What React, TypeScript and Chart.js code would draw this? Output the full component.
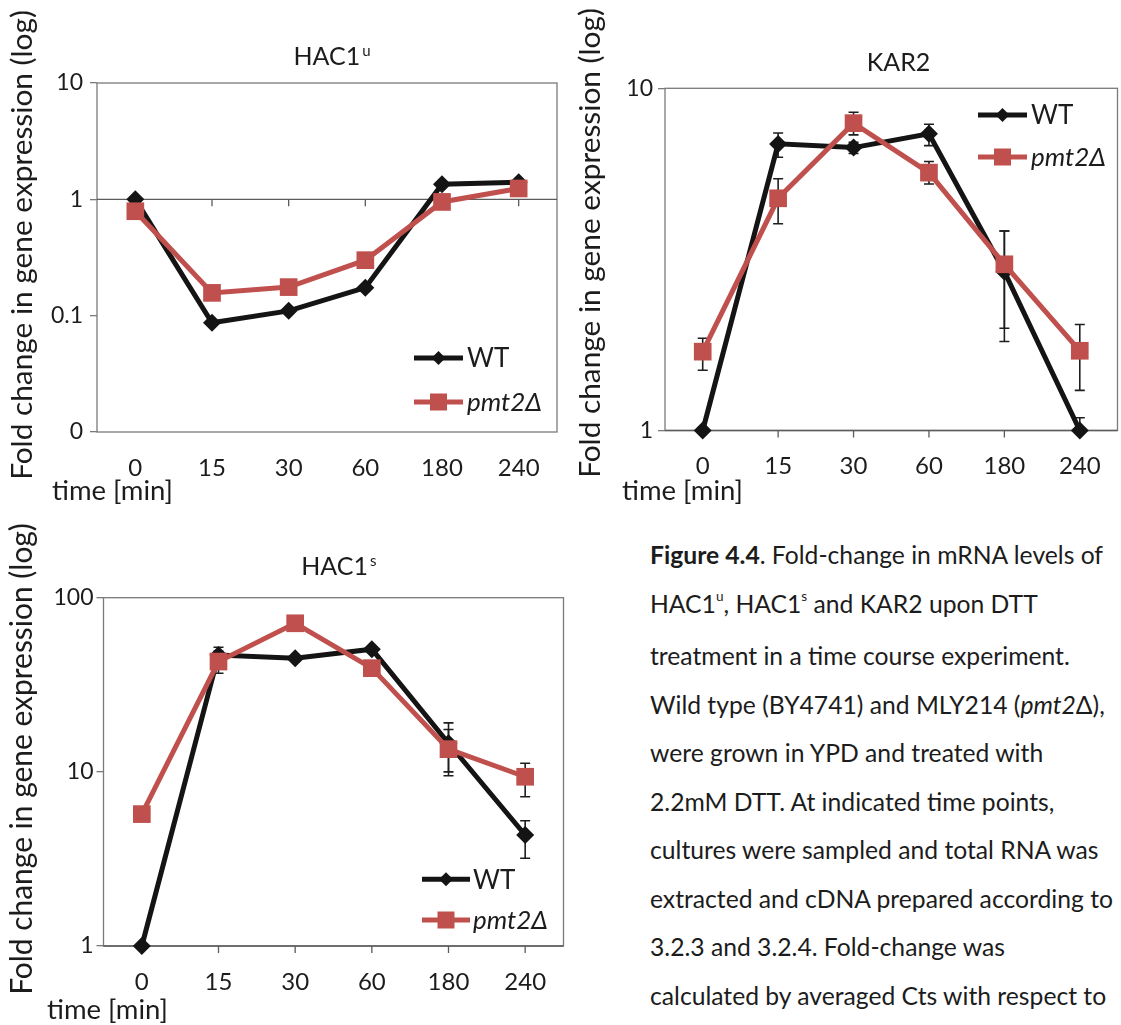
import React, { useEffect, useRef } from 'react';
import { Chart, registerables } from 'chart.js';

Chart.register(...registerables);

const FONT = "Lato, 'Open Sans', 'DejaVu Sans', sans-serif";
const RED = '#C0504D';
const BLACK = '#141414';

// ---------- data ----------
const timeLabels = ['0', '15', '30', '60', '180', '240'];
const seriesNames = ['WT', 'pmt2Δ'];
const yAxisTitle = 'Fold change in gene expression (log)';
const xAxisTitle = 'time [min]';

// HAC1u
const hacUTicks = [0.01, 0.1, 1, 10];
const hacUTickLabels = ['0', '0.1', '1', '10'];
const hacUWt = [1.0, 0.087, 0.11, 0.174, 1.35, 1.4];
const hacUPmt = [0.79, 0.157, 0.176, 0.3, 0.95, 1.24];

// KAR2
const kar2Ticks = [1, 10];
const kar2TickLabels = ['1', '10'];
const kar2Wt = [1.0, 6.88, 6.71, 7.36, 2.91, 1.0];
const kar2Pmt = [1.7, 4.77, 7.91, 5.67, 3.06, 1.71];
const kar2WtErr: (number[] | null)[] = [null, [6.29, 7.4], [6.45, 6.95], [6.8, 7.85], [1.99, 3.83], [0.93, 1.09]];
const kar2PmtErr: (number[] | null)[] = [[1.5, 1.86], [4.02, 5.44], [7.31, 8.51], [5.25, 6.11], [1.82, 3.83], [1.31, 2.04]];

// HAC1s
const hacSTicks = [1, 10, 100];
const hacSTickLabels = ['1', '10', '100'];
const hacSWt = [1.0, 46.9, 44.9, 50.6, 14.6, 4.34];
const hacSPmt = [5.72, 43.0, 71.3, 39.4, 13.5, 9.37];
const hacSWtErr: (number[] | null)[] = [null, [41.9, 51.9], null, null, [10.0, 19.1], [3.19, 5.24]];
const hacSPmtErr: (number[] | null)[] = [[5.2, 6.2], [36.8, 49.2], null, null, [9.5, 17.5], [7.2, 11.2]];

// ---------- layout (positions / styles) ----------
type Panel = {
  left: number; top: number; w: number; h: number;
  area: { l: number; t: number; r: number; b: number };
  title: { text: string; sup?: string; cx: number; cy: number };
  yTitle: { baseX: number; cy: number; len: number };
  xTitle: { x: number; cy: number };
  legend: { x1: number; x2: number; tx: number; y1: number; y2: number };
  yTickPad: number; xTickPad: number;
  ticks: number[]; tickLabels: string[];
  wt: number[]; pmt: number[];
  wtErr: (number[] | null)[]; pmtErr: (number[] | null)[];
};

const panels: Panel[] = [
  {
    left: 0, top: 0, w: 570, h: 510,
    area: { l: 97, t: 83, r: 557, b: 432 },
    title: { text: 'HAC1', sup: 'u', cx: 332, cy: 56 },
    yTitle: { baseX: 32, cy: 245, len: 470 },
    xTitle: { x: 52, cy: 491 },
    legend: { x1: 414, x2: 463, tx: 467, y1: 358, y2: 402 },
    yTickPad: 7, xTickPad: 14,
    ticks: hacUTicks, tickLabels: hacUTickLabels,
    wt: hacUWt, pmt: hacUPmt, wtErr: [], pmtErr: [],
  },
  {
    left: 570, top: 0, w: 560, h: 510,
    area: { l: 95, t: 88.3, r: 554, b: 430.5 },
    title: { text: 'KAR2', cx: 328.5, cy: 62 },
    yTitle: { baseX: 30, cy: 243, len: 470 },
    xTitle: { x: 52, cy: 491 },
    legend: { x1: 408, x2: 457, tx: 461, y1: 115, y2: 157 },
    yTickPad: 5, xTickPad: 13,
    ticks: kar2Ticks, tickLabels: kar2TickLabels,
    wt: kar2Wt, pmt: kar2Pmt, wtErr: kar2WtErr, pmtErr: kar2PmtErr,
  },
  {
    left: 0, top: 510, w: 600, h: 515,
    area: { l: 103.5, t: 87.7, r: 563.5, b: 436 },
    title: { text: 'HAC1', sup: 's', cx: 338.8, cy: 55.8 },
    yTitle: { baseX: 32, cy: 249, len: 472 },
    xTitle: { x: 47, cy: 500 },
    legend: { x1: 422, x2: 470, tx: 473, y1: 369.3, y2: 410 },
    yTickPad: 3, xTickPad: 14,
    ticks: hacSTicks, tickLabels: hacSTickLabels,
    wt: hacSWt, pmt: hacSPmt, wtErr: hacSWtErr, pmtErr: hacSPmtErr,
  },
];

function diamond(ctx: CanvasRenderingContext2D, x: number, y: number, r: number) {
  ctx.beginPath();
  ctx.moveTo(x - r, y); ctx.lineTo(x, y - r); ctx.lineTo(x + r, y); ctx.lineTo(x, y + r);
  ctx.closePath(); ctx.fill();
}

const figurePlugin = {
  id: 'figure',
  beforeDatasetsDraw(chart: any, _args: any, o: any) {
    const { ctx, chartArea: a } = chart;
    const xs = chart.scales.x, ys = chart.scales.y;
    ctx.save();
    ctx.lineWidth = 1.3;
    ctx.strokeStyle = '#7a7a7a';
    ctx.strokeRect(a.left, a.top, a.right - a.left, a.bottom - a.top);
    const yc = ys.getPixelForValue(1);
    ctx.strokeStyle = '#5c5c5c';
    ctx.beginPath();
    ctx.moveTo(a.left, yc); ctx.lineTo(a.right, yc);
    for (let i = 0; i < timeLabels.length; i++) {
      const px = xs.getPixelForValue(i);
      ctx.moveTo(px, yc); ctx.lineTo(px, yc + 7);
    }
    ctx.stroke();
    ctx.beginPath();
    ctx.rect(a.left, a.top - 20, a.right - a.left, a.bottom - a.top + 20);
    ctx.clip();
    ctx.strokeStyle = '#1e1e1e';
    ctx.lineWidth = 1.6;
    (o.errors || []).forEach((ser: (number[] | null)[]) => ser.forEach((e, i) => {
      if (!e) return;
      const px = xs.getPixelForValue(i);
      const y1 = ys.getPixelForValue(e[0]), y2 = ys.getPixelForValue(e[1]);
      ctx.beginPath();
      ctx.moveTo(px, y1); ctx.lineTo(px, y2);
      ctx.moveTo(px - 5, y1); ctx.lineTo(px + 5, y1);
      ctx.moveTo(px - 5, y2); ctx.lineTo(px + 5, y2);
      ctx.stroke();
    }));
    ctx.restore();
  },
  afterDraw(chart: any, _args: any, o: any) {
    const ctx: CanvasRenderingContext2D = chart.ctx;
    const p: Panel = o.panel;
    ctx.save();
    ctx.fillStyle = '#1c1c1c';
    // title
    ctx.textAlign = 'left';
    ctx.textBaseline = 'alphabetic';
    ctx.font = `25px ${FONT}`;
    const w1 = ctx.measureText(p.title.text).width;
    ctx.font = `15px ${FONT}`;
    const w2 = p.title.sup ? ctx.measureText(p.title.sup).width + 2 : 0;
    const x0 = p.title.cx - (w1 + w2) / 2;
    const base = p.title.cy + 9;
    ctx.font = `25px ${FONT}`;
    ctx.fillText(p.title.text, x0, base);
    if (p.title.sup) {
      ctx.font = `15px ${FONT}`;
      ctx.fillText(p.title.sup, x0 + w1 + 2, base - 9);
    }
    // y title (fitted to length)
    ctx.font = `24px ${FONT}`;
    const mw = ctx.measureText(yAxisTitle).width;
    const fs = 24 * p.yTitle.len / mw;
    ctx.save();
    ctx.translate(p.yTitle.baseX, p.yTitle.cy);
    ctx.rotate(-Math.PI / 2);
    ctx.textAlign = 'center';
    ctx.font = `${fs}px ${FONT}`;
    ctx.fillText(yAxisTitle, 0, 0);
    ctx.restore();
    // x title
    ctx.textAlign = 'left';
    ctx.textBaseline = 'middle';
    ctx.font = `27.5px ${FONT}`;
    ctx.fillText(xAxisTitle, p.xTitle.x, p.xTitle.cy);
    // legend
    const L = p.legend;
    const mid = (L.x1 + L.x2) / 2;
    ctx.lineWidth = 5;
    ctx.strokeStyle = BLACK;
    ctx.beginPath(); ctx.moveTo(L.x1, L.y1); ctx.lineTo(L.x2, L.y1); ctx.stroke();
    ctx.fillStyle = BLACK;
    diamond(ctx, mid, L.y1, 7);
    ctx.strokeStyle = RED;
    ctx.beginPath(); ctx.moveTo(L.x1, L.y2); ctx.lineTo(L.x2, L.y2); ctx.stroke();
    ctx.fillStyle = RED;
    ctx.fillRect(mid - 8.5, L.y2 - 8.5, 17, 17);
    ctx.fillStyle = '#1c1c1c';
    ctx.font = `26px ${FONT}`;
    ctx.fillText(seriesNames[0], L.tx, L.y1 + 1);
    ctx.font = `italic 26px ${FONT}`;
    ctx.fillText(seriesNames[1], L.tx, L.y2 + 1);
    ctx.restore();
  },
};

function PanelChart({ p }: { p: Panel }) {
  const ref = useRef<HTMLCanvasElement>(null);
  useEffect(() => {
    if (!ref.current) return;
    const xAxisH = 62;
    const chart = new Chart(ref.current, {
      type: 'line',
      data: {
        labels: timeLabels,
        datasets: [
          {
            label: seriesNames[0], data: p.wt, order: 1,
            borderColor: BLACK, backgroundColor: BLACK, borderWidth: 5,
            pointStyle: 'rectRot', pointRadius: 9, pointBorderWidth: 0,
            pointBackgroundColor: BLACK, tension: 0,
          },
          {
            label: seriesNames[1], data: p.pmt, order: 0,
            borderColor: RED, backgroundColor: RED, borderWidth: 5,
            pointStyle: 'rect', pointRadius: 12.5, pointBorderWidth: 0,
            pointBackgroundColor: RED, tension: 0,
          },
        ],
      },
      options: {
        animation: false,
        responsive: false,
        maintainAspectRatio: false,
        clip: false as any,
        layout: { padding: { left: 0, top: p.area.t, right: p.w - p.area.r, bottom: p.h - p.area.b - xAxisH } },
        plugins: {
          legend: { display: false },
          title: { display: false },
          tooltip: { enabled: false },
          figure: { panel: p, errors: [p.wtErr, p.pmtErr] },
        } as any,
        scales: {
          x: {
            type: 'category', offset: true,
            grid: { display: false }, border: { display: false },
            ticks: { font: { family: FONT, size: 24 }, color: '#1c1c1c', padding: p.xTickPad, autoSkip: false, maxRotation: 0 },
            afterFit: (s: any) => { s.height = xAxisH; },
          },
          y: {
            type: 'logarithmic',
            min: p.ticks[0], max: p.ticks[p.ticks.length - 1],
            grid: { drawOnChartArea: false, drawTicks: true, tickLength: 7, color: '#7a7a7a', lineWidth: 1.3 },
            border: { display: false },
            ticks: {
              font: { family: FONT, size: 23 }, color: '#1c1c1c', padding: p.yTickPad,
              callback: (v: any) => {
                const i = p.ticks.findIndex((t) => Math.abs(t - Number(v)) < 1e-9);
                return i >= 0 ? p.tickLabels[i] : '';
              },
            },
            afterBuildTicks: (s: any) => { s.ticks = p.ticks.map((v) => ({ value: v })); },
            afterFit: (s: any) => { s.width = p.area.l; },
          },
        } as any,
      },
      plugins: [figurePlugin as any],
    });
    return () => chart.destroy();
  }, [p]);
  return (
    <canvas
      ref={ref}
      width={p.w}
      height={p.h}
      style={{ position: 'absolute', left: p.left, top: p.top, width: p.w, height: p.h }}
    />
  );
}

const supStyle: React.CSSProperties = { fontSize: '0.55em', position: 'relative', top: '-0.85em' };

export default function App() {
  return (
    <div style={{ position: 'absolute', left: 0, top: 0, width: 1121, height: 1025, overflow: 'hidden', background: '#fff' }}>
      {panels.map((p, i) => <PanelChart key={i} p={p} />)}
      <div style={{ position: 'absolute', left: 650, top: 531, fontFamily: FONT, fontSize: 24.7, lineHeight: '48.5px', color: '#1c1c1c', whiteSpace: 'nowrap' }}>
        <div><b>Figure 4.4</b>. Fold-change in mRNA levels of</div>
        <div>HAC1<span style={supStyle}>u</span>, HAC1<span style={supStyle}>s</span> and KAR2 upon DTT</div>
        <div>treatment in a time course experiment.</div>
        <div>Wild type (BY4741) and MLY214 (<i>pmt2</i>Δ),</div>
        <div>were grown in YPD and treated with</div>
        <div>2.2mM DTT. At indicated time points,</div>
        <div>cultures were sampled and total RNA was</div>
        <div>extracted and cDNA prepared according to</div>
        <div>3.2.3 and 3.2.4. Fold-change was</div>
        <div>calculated by averaged Cts with respect to</div>
      </div>
    </div>
  );
}
